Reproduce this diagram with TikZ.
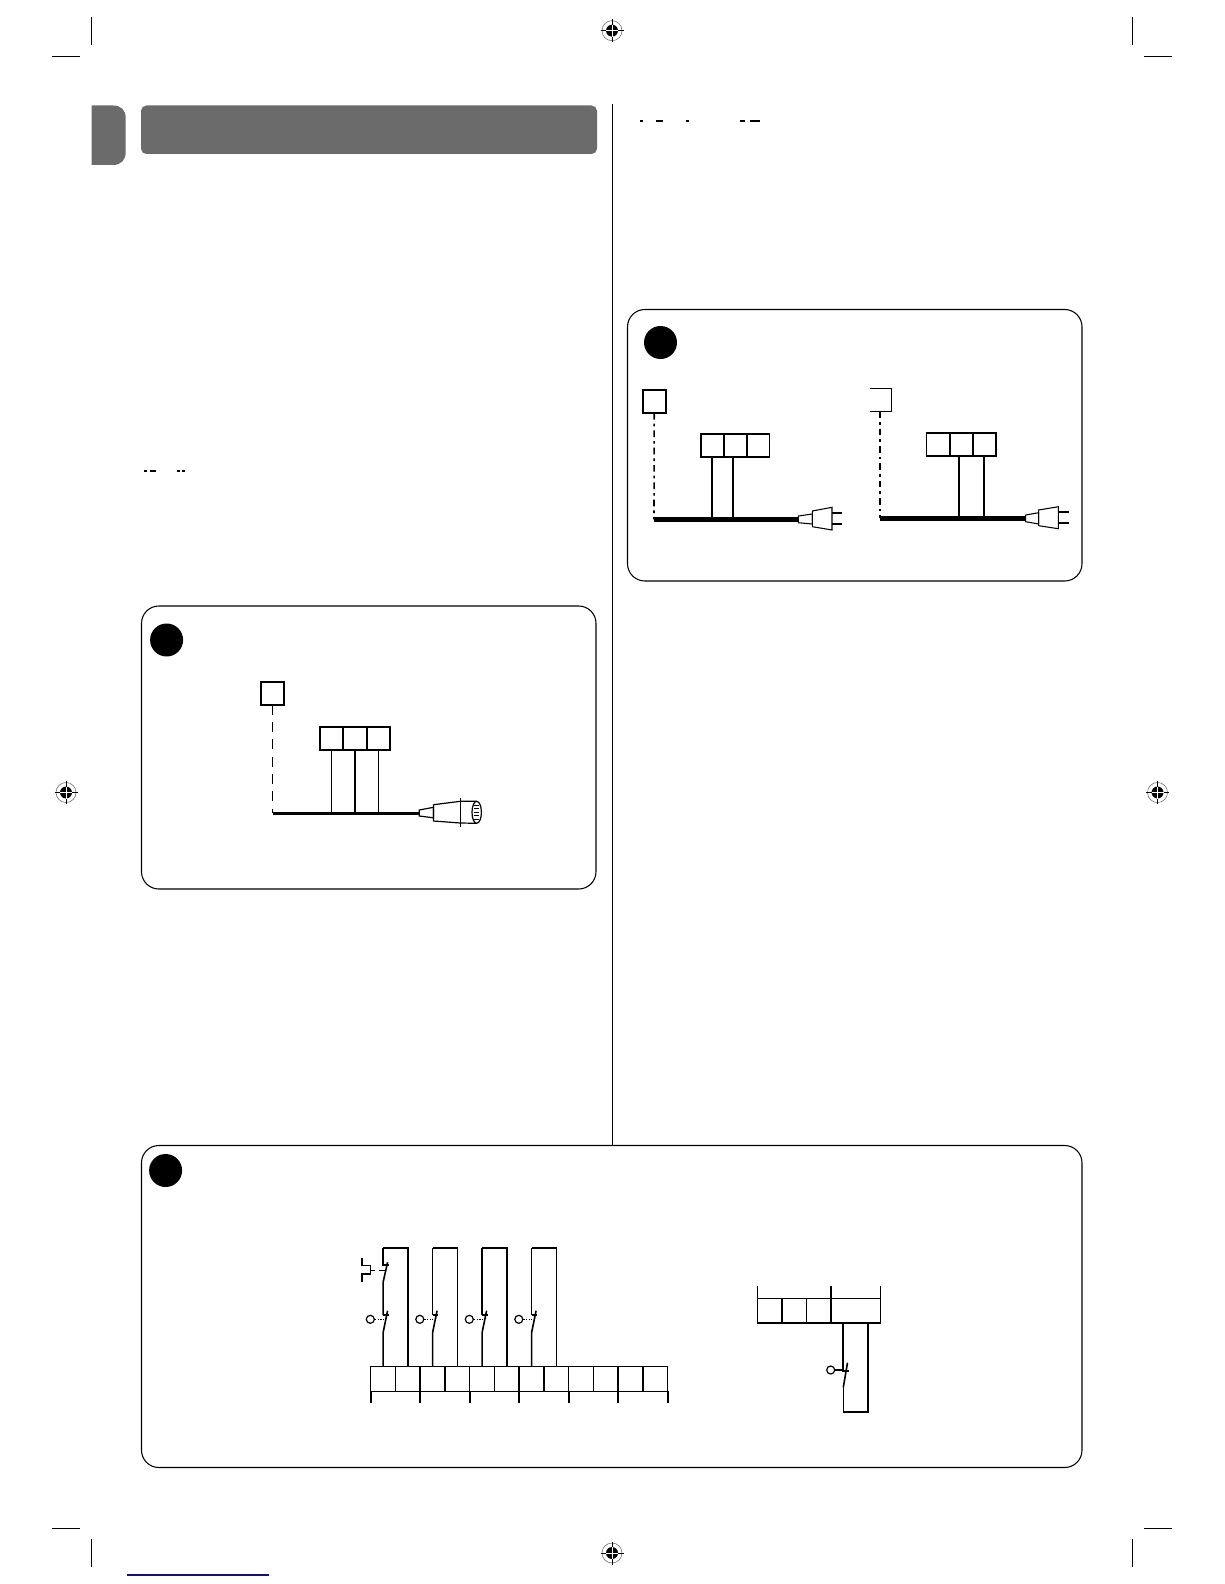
\documentclass[tikz,border=0pt]{standalone}
\usetikzlibrary{positioning}

\definecolor{bandgrey}{RGB}{107,107,107}
\definecolor{linkblue}{RGB}{16,16,127}

\tikzset{every picture/.style={line width=0.75pt}}
\tikzset{
	panel/.style={draw, line width=0.8pt, rounded corners=13pt},
	termbox/.style={draw, line width=1.35pt, inner sep=0pt, outer sep=0pt, minimum width=17.3pt, minimum height=17.3pt},
	rowcell/.style={draw, line width=1.1pt, inner sep=0pt, outer sep=0pt, minimum width=18.56pt, minimum height=18.4pt},
	wire/.style={line width=1.2pt},
	cable/.style={line width=1.9pt},
	widecable/.style={line width=3.4pt},
	longdash/.style={line width=1.2pt, dash pattern=on 7.5pt off 5.5pt},
	dotdash/.style={line width=1.2pt, dash pattern=on 5pt off 3pt on 2pt off 3pt},
	cropline/.style={line width=0.6pt}
}

\begin{document}
\begin{tikzpicture}[x=0.75pt,y=0.75pt,yscale=-1,xscale=1]
	\useasboundingbox (0,0) rectangle (1224,1584);

	%Crop marks
	\foreach \cx/\hxa/\hxb in {91.5/51.5/80,1132.5/1144/1172}{
		\draw [cropline] (\cx,17.5) -- (\cx,45) ;
		\draw [cropline] (\hxa,56) -- (\hxb,56) ;
		\draw [cropline] (\cx,1539) -- (\cx,1567) ;
		\draw [cropline] (\hxa,1528) -- (\hxb,1528) ;
	}
	%Register marks
	\foreach \rx/\ry in {612/30.7,612/1553,66/792.5,1157.5/792.5}{
		\draw [line width=0.4pt, black!60] (\rx,\ry) circle (10) ;
		\fill (\rx,\ry) circle (6) ;
		\draw [line width=0.6pt] (\rx-11.5,\ry) -- (\rx+11.5,\ry) (\rx,\ry-11.5) -- (\rx,\ry+11.5) ;
		\draw [line width=0.6pt, white] (\rx-6,\ry) -- (\rx+6,\ry) (\rx,\ry-6) -- (\rx,\ry+6) ;
	}
	\draw [line width=1pt, linkblue] (127,1575) -- (269,1575) ;

	%Header band and tab
	\fill [bandgrey] (91.5,105.5) -- (113,105.5) .. controls (121,105.5) and (125.7,110) .. (125.7,118) -- (125.7,152) .. controls (125.7,160) and (121,165) .. (113,165) -- (91.5,165) -- cycle ;
	\fill [bandgrey, rounded corners=4pt] (141,105.5) rectangle (597,154) ;
	%Column rule
	\draw [line width=0.6pt] (612,104) -- (612,1145) ;

	%Cut off lines of the page
	\foreach \ax/\bx in {640/643,656/663,686/689,740/745,750/760}{
		\fill (\ax,120.5) rectangle (\bx,122.5) ;
	}
	\foreach \ax/\bx in {144/147,150/156,177/180,182/185}{
		\fill (\ax,470) rectangle (\bx,472) ;
	}

	%Panels
	\draw [panel] (141.5,606) rectangle (596,889) ;
	\draw [panel] (627.5,309.5) rectangle (1082,581) ;
	\draw [panel] (141.5,1145.5) rectangle (1082,1467.5) ;
	\fill (166.6,640) circle (16.5) ;
	\fill (660.5,342.5) circle (16.5) ;
	\fill (165.6,1170.5) circle (16.5) ;

	%Figure in the left panel
	\node [termbox] (sensa) at (272.5,693.2) {};
	\node [termbox] (trma) at (331.7,738.3) {};
	\node [termbox] (trmb) at (355,738.3) {};
	\node [termbox] (trmc) at (378.3,738.3) {};
	\coordinate (cblstart) at (272.5,813.3);
	\coordinate (cblend) at (419.3,813.3);
	\draw [longdash] (sensa.south) -- (cblstart) ;
	\draw [line width=0.7pt] (trma.south) -- (trma.south |- cblstart) ;
	\draw [wire] (trmb.south) -- (trmb.south |- cblstart) ;
	\draw [wire] (trmc.south) -- (trmc.south |- cblstart) ;
	\draw [cable] (cblstart) -- (cblend) ;
	%Round connector
	\draw [line width=0.9pt] (419.3,810) -- (433.5,807.3) -- (433.5,817.8) -- (419.3,816) -- cycle ;
	\draw [line width=0.9pt] (433.5,804.7) -- (460.3,801.3) -- (476.7,801.3) (433.5,804.7) -- (433.5,821) -- (460.3,823) -- (476.7,823.3) ;
	\draw [line width=0.6pt] (460.3,798) -- (460.3,826.7) ;
	\draw [line width=0.9pt] (476.7,812.3) ellipse (4.7 and 11) ;
	\foreach \ty in {805,808.5,812,815.5,819}{
		\draw [line width=0.5pt] (473.5,\ty) -- (478.5,\ty) ;
	}

	%Figure in the right panel, left side
	\node [termbox] (sensb) at (654.2,401.5) {};
	\node [termbox] (trmd) at (712.2,445.8) {};
	\node [termbox] (trme) at (735.1,445.8) {};
	\node [termbox] (trmf) at (758,445.8) {};
	\coordinate (cbbstart) at (654,519.3);
	\coordinate (cbbend) at (798.3,519.3);
	\draw [dotdash] (sensb.south) -- (cbbstart) ;
	\draw [wire] (trmd.south) -- (trmd.south |- cbbstart) ;
	\draw [wire] ([xshift=-1.8pt]trme.south) -- ([xshift=-1.8pt]trme.south |- cbbstart) ;
	\draw [widecable] (cbbstart) -- (cbbend) ;
	%Plug
	\draw [line width=0.8pt] (798.3,516) -- (812.3,514) -- (812.3,524) -- (798.3,522.7) -- cycle ;
	\draw [line width=0.8pt] (812.3,511) -- (832,507.3) -- (832,530) -- (812.3,526.7) -- cycle ;
	\draw [wire] (832,512.7) -- (842,512.7) (832,524) -- (842,524) ;

	%Figure in the right panel, right side
	\coordinate (sensc) at (879.7,411.3);
	\draw [wire] (870,388.3) -- (891.3,388.3) -- (891.3,411.3) -- (870,411.3) ;
	\node [termbox] (trmg) at (938,444.4) {};
	\node [termbox] (trmh) at (961.2,444.4) {};
	\node [termbox] (trmi) at (984.2,444.4) {};
	\coordinate (cbcstart) at (879.7,518.3);
	\coordinate (cbcend) at (1025.7,518.3);
	\draw [dotdash] (sensc) -- (cbcstart) ;
	\draw [wire] ([xshift=-1.6pt]trmh.south) -- ([xshift=-1.6pt]trmh.south |- cbcstart) ;
	\draw [wire] (trmi.south) -- (trmi.south |- cbcstart) ;
	\draw [widecable] (cbcstart) -- (cbcend) ;
	%Plug
	\draw [line width=0.8pt] (1025.7,515) -- (1038.7,512.7) -- (1038.7,524) -- (1025.7,521.7) -- cycle ;
	\draw [line width=0.8pt] (1038.7,510) -- (1058.3,506.7) -- (1058.3,528.7) -- (1038.7,525.7) -- cycle ;
	\draw [wire] (1058.3,512) -- (1069,512) (1058.3,523) -- (1069,523) ;

	%Terminal row of the bottom panel
	\foreach \i in {1,...,12}{
		\node [rowcell] (cell\i) at ({370.7+24.75*(\i-0.5)},1379) {};
	}
	\foreach \tx in {370.7,420.2,469.7,519.2,568.7,618.2,667.7}{
		\draw [wire] (\tx,1391.3) -- (\tx,1403.3) ;
	}
	%Wires and contacts
	\foreach \a/\b/\ox in {1/2/370.3,3/4/419.8,5/6/469.3,7/8/518.8}{
		\coordinate (top\a) at (cell\a.north |- 0,1247.7);
		\coordinate (nc\a) at (cell\a.north |- 0,1315);
		\draw [wire] (cell\a.north) -- ++(0,-34) -- ++(4.5,-22) ;
		\draw [wire] (nc\a) -- ++(5.7,0) ;
		\draw [wire] (cell\b.north) |- (top\a) ;
		\node [draw, circle, line width=0.9pt, inner sep=0pt, minimum size=6pt] (lamp\a) at (\ox,1319.3) {};
		\draw [line width=0.9pt, dash pattern=on 1pt off 1pt] (lamp\a) -- (cell\a.north |- lamp\a) ;
	}
	\foreach \a in {3,5,7}{
		\draw [wire] (top\a) -- (nc\a) ;
	}
	%First loop has a second contact
	\coordinate (nca) at (cell1.north |- 0,1265);
	\coordinate (nob) at (cell1.north |- 0,1282.3);
	\draw [wire] (top1) -- (nca) -- ++(5.7,0) ;
	\draw [wire] (nc1) -- (nob) -- ++(4.5,-20) ;
	\draw [line width=0.8pt] (362,1258.3) -- (362,1265.7) -- (370.7,1265.7) -- (370.7,1274) -- (362,1274) -- (362,1282.3) ;
	\draw [line width=0.8pt] (370.7,1270.3) -- (375,1270.3) (379.3,1270.3) -- (385,1270.3) ;

	%Second terminal row of the bottom panel
	\node [rowcell] (dcell1) at (769.9,1310.5) {};
	\node [rowcell] (dcell2) at (794.3,1310.5) {};
	\node [rowcell] (dcell3) at (818.8,1310.5) {};
	\node [rowcell, minimum width=37pt] (dcell4) at (855.8,1310.5) {};
	\draw [wire] (dcell1.north west) -- ++(0,-12.3) ;
	\draw [wire] (dcell4.north west) -- ++(0,-12.3) ;
	\draw [wire] (dcell4.north east) -- ++(0,-12.3) ;
	\coordinate (dloop) at ([xshift=-9.4pt]dcell4.south);
	\draw [wire] (dloop) -- ++(0,48) -- ++(6,0) ;
	\draw [wire] (843.3,1387.3) -- (847.5,1362.7) ;
	\draw [wire] (843.3,1387.3) -- (843.3,1411.7) -- (868,1411.7) -- (868,1322.7) ;
	\node [draw, circle, line width=0.9pt, inner sep=0pt, minimum size=6pt] (lampd) at (830.7,1370) {};
	\draw [wire] (lampd) -- (843.3,1370) ;
\end{tikzpicture}
\end{document}
